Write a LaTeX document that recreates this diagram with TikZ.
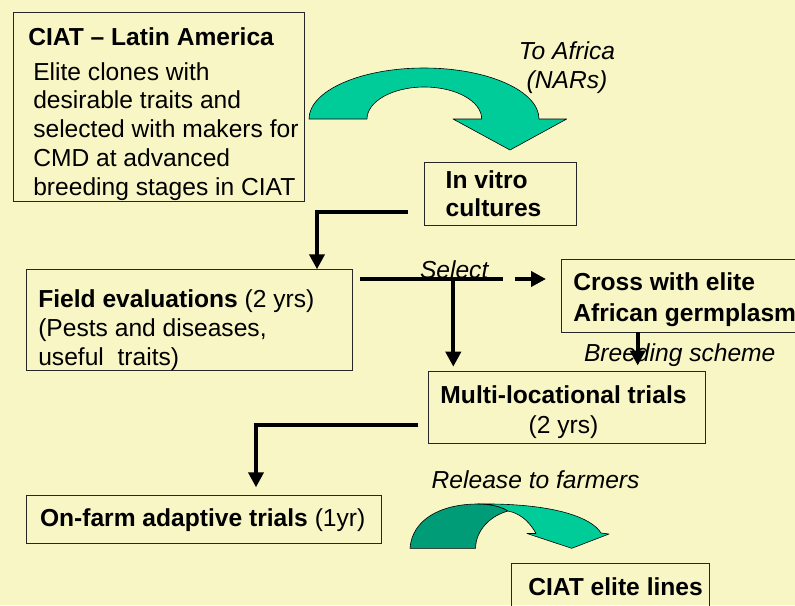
\documentclass[tikz,border=0pt]{standalone}
\usepackage{fontspec}
\setmainfont{Liberation Sans}
\usetikzlibrary{arrows.meta,calc}
\definecolor{bg}{RGB}{248,246,196}
\definecolor{tealA}{RGB}{0,204,153}
\definecolor{tealB}{RGB}{0,156,120}
\newcommand\fsz{\fontsize{24.6}{28.75}\selectfont}
\begin{document}
\begin{tikzpicture}[x=1pt,y=-1pt,
  box/.style={draw=black!85,line width=0.8pt,anchor=north west,inner sep=0pt,outer sep=0pt},
  txt/.style={anchor=base west,inner sep=0pt,outer sep=0pt,font=\fsz},
  ctxt/.style={anchor=base,inner sep=0pt,outer sep=0pt,font=\fsz},
  conn/.style={line width=3.8pt,line join=miter,draw=black},
  tip/.style={-{Triangle[length=15pt,width=15pt]}},
  bigarrow/.style={draw=black,line width=0.6pt,line join=round}]
\useasboundingbox (0,0) rectangle (795,605);
\clip (0,0) rectangle (795,605);
\fill[bg] (0,0) rectangle (795,605);

% boxes
\node[box,minimum width=291pt,minimum height=189pt] (latin) at (13,12) {};
\node[box,minimum width=152.7pt,minimum height=63pt] (vitro) at (424,162.7) {};
\node[box,minimum width=325.6pt,minimum height=100.7pt] (field) at (26.7,269.3) {};
\node[box,minimum width=260pt,minimum height=73pt] (cross) at (561.7,259.3) {};
\node[box,minimum width=276.7pt,minimum height=71.6pt] (multi) at (428.3,371.7) {};
\node[box,minimum width=355pt,minimum height=48.3pt] (farm) at (26.7,495) {};
\node[box,minimum width=198.3pt,minimum height=60pt] (elite) at (511,563.3) {};

% texts
\node[txt] (t1) at (28.3,45) {\textbf{CIAT – Latin America}};
\node[txt] (t1b) at (33.3,80) {\parbox[t]{285pt}{\fsz\raggedright Elite clones with\\desirable traits and\\selected with makers for\\CMD at advanced\\breeding stages in CIAT}};
\node[txt] (tv) at (445.7,188.3) {\parbox[t]{130pt}{\fontsize{24.6}{28.4}\selectfont\raggedright\bfseries In vitro\\cultures}};
\node[ctxt] (ta) at (567,59) {\parbox[t]{130pt}{\fontsize{24.6}{29}\selectfont\centering\itshape To Africa\\(NARs)}};
\node[txt] (tf) at (38.3,307) {\parbox[t]{310pt}{\fontsize{24.6}{29}\selectfont\raggedright\textbf{Field evaluations} (2 yrs)\\(Pests and diseases,\\useful\ \ traits)}};
\node[txt] (ts) at (420,278) {\itshape Select};
\node[txt] (tc) at (573.3,290) {\parbox[t]{260pt}{\fontsize{24.6}{31.5}\selectfont\raggedright\bfseries Cross with elite\\African germplasm}};
\node[txt] (tb) at (584,361.7) {\itshape Breeding scheme};
\node[ctxt] (tm) at (563.5,403) {\parbox[t]{270pt}{\fontsize{24.6}{30}\selectfont\centering\textbf{Multi-locational trials}\\(2 yrs)}};
\node[txt] (tr) at (431.7,488.3) {\itshape Release to farmers};
\node[txt] (tfa) at (40,526.7) {\textbf{On-farm adaptive trials} (1yr)};
\node[txt] (te) at (528.3,595) {\textbf{CIAT elite lines}};

% big curved arrow (to Africa)
\draw[bigarrow,fill=tealA] (309,119) arc[start angle=180,end angle=0,x radius=115pt,y radius=51pt]
  -- (566.7,119) -- (510,150) -- (453,119) -- (481.7,119)
  arc[start angle=0,end angle=180,x radius=57.35pt,y radius=32pt] -- cycle;

% bottom curved arrow (release to farmers)
\draw[bigarrow,fill=tealB] (410,548.3) .. controls (412,520) and (440,504) .. (478,504)
  .. controls (492,504) and (502,507) .. (508,511)
  .. controls (490,516) and (476,530) .. (475.5,548.3) -- cycle;
\draw[bigarrow,fill=tealA] (478,504) .. controls (555,503) and (592,518) .. (601,533)
  -- (609,534) -- (571.7,548.3) -- (527,533.5) -- (536,533.5)
  .. controls (528,519) and (518,513) .. (508,511)
  .. controls (502,507) and (492,504) .. (478,504) -- cycle;

% connector coordinates
\coordinate (c1a) at (408,212);
\coordinate (c1b) at ([xshift=290.3pt]field.north west);
\coordinate (c2a) at (360,279);
\coordinate (c2b) at (503,279);
\coordinate (c2j) at (453.3,279);
\coordinate (c2t) at (453.3,366.7);
\coordinate (c3a) at (515,279);
\coordinate (c4a) at ([xshift=76pt]cross.south west);
\coordinate (c4b) at (637.7,365.5);
\coordinate (c5a) at (418.3,424.7);
\coordinate (c5b) at (256,487.3);

% connectors
\draw[conn,tip] (c1a) -| (c1b);
\draw[conn] (c2a) -- (c2b);
\draw[conn,tip] (c2j) -- (c2t);
\draw[conn,tip,shorten >=15.7pt] (c3a) -- (cross.west |- c3a);
\draw[conn,tip] (c4a) -- (c4b);
\draw[conn,tip] (c5a) -| (c5b);
\end{tikzpicture}
\end{document}
